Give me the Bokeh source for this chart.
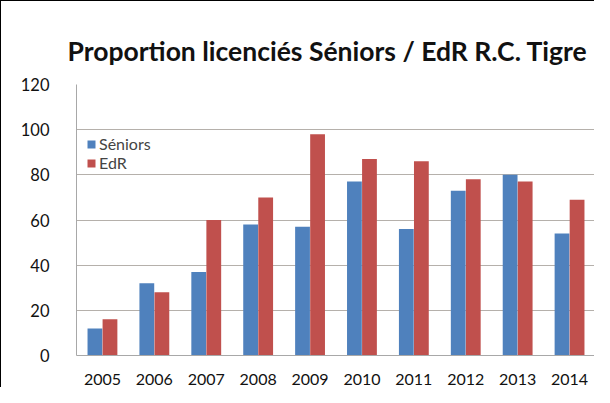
from bokeh.plotting import figure
from bokeh.models import FactorRange, Legend, LegendItem, ColumnDataSource, Title
from bokeh.transform import dodge
from bokeh.embed import file_html
from bokeh.resources import INLINE

years = ["2005", "2006", "2007", "2008", "2009", "2010", "2011", "2012", "2013", "2014"]
seniors = [12, 32, 37, 58, 57, 77, 56, 73, 80, 54]
edr = [16, 28, 60, 70, 98, 87, 86, 78, 77, 69]
y_ticks = [0, 20, 40, 60, 80, 100, 120]

src = ColumnDataSource(dict(years=years, seniors=seniors, edr=edr))

p = figure(width=594, height=387, x_range=FactorRange(*years, range_padding=0),
           y_range=(0, 120), output_backend="svg", toolbar_location=None,
           min_border_left=75, min_border_right=0, min_border_top=83, min_border_bottom=33)
p.styles = {"border-left": "1px solid black", "border-top": "1px solid black"}

r1 = p.vbar(x=dodge("years", -0.145, range=p.x_range), top="seniors", width=0.285,
            source=src, fill_color="#4F81BD", line_color=None)
r2 = p.vbar(x=dodge("years", 0.145, range=p.x_range), top="edr", width=0.285,
            source=src, fill_color="#C0504D", line_color=None)

t = Title(text="Proportion licenciés Séniors / EdR R.C. Tigre", align="left",
          text_font="Lato", text_font_style="bold", text_font_size="26.5px",
          text_color="#111111", standoff=35, offset=-9)
p.add_layout(t, "above")

p.yaxis.ticker = y_ticks
p.yaxis.major_tick_line_color = None
p.yaxis.minor_tick_line_color = None
p.xaxis.major_tick_line_color = None
p.axis.axis_line_color = "#a8a8a8"
p.axis.major_label_text_font = "Lato"
p.axis.major_label_text_font_size = "16.5px"
p.axis.major_label_text_color = "#111111"
p.yaxis.major_label_standoff = 21
p.xaxis.major_label_standoff = 12
p.xaxis.major_label_text_font_size = "16px"
p.xgrid.grid_line_color = None
p.ygrid.grid_line_color = "#b5b0ab"
p.outline_line_color = None

legend = Legend(items=[LegendItem(label="Séniors", renderers=[r1]),
                       LegendItem(label="EdR", renderers=[r2])],
                location=(10, 183), padding=2, spacing=-2, glyph_width=10, glyph_height=10,
                label_text_font="Lato", label_text_font_size="16px", label_standoff=3,
                background_fill_alpha=0, border_line_color=None)
p.add_layout(legend)

open("out.html", "w").write(file_html(p, INLINE))
